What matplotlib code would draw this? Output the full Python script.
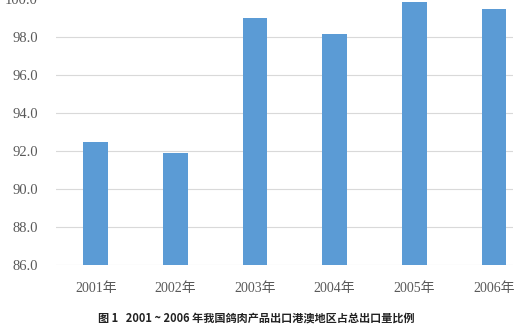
import matplotlib
matplotlib.use("Agg")
import matplotlib.pyplot as plt

years = ["2001年", "2002年", "2003年", "2004年", "2005年", "2006年"]
values = [92.47, 91.9, 99.0, 98.15, 99.85, 99.47]
yticks = [86.0, 88.0, 90.0, 92.0, 94.0, 96.0, 98.0, 100.0]
caption = "图 1   2001 ~ 2006 年我国鸽肉产品出口港澳地区占总出口量比例"

fig = plt.figure(figsize=(5.26, 3.26), dpi=100)
ax = fig.add_axes([56/526, 1 - 265/326, (513-56)/526, 266/326])

x = list(range(len(years)))
ax.bar(x, values, width=0.31, color="#5B9BD5", zorder=3)
ax.set_ylim(86, 100)
ax.set_xlim(-0.5, 5.24)
ax.set_yticks(yticks)
ax.set_yticklabels([f"{v:.1f}" for v in yticks], family=["Liberation Serif", "Noto Sans CJK SC"],
                   fontsize=10.5, color="#595959")
ax.set_xticks(x)
ax.set_xticklabels(years, family=["Liberation Serif", "Noto Sans CJK SC"], fontsize=10, color="#595959")
ax.grid(axis="y", color="#D9D9D9", linewidth=0.8, zorder=0)
ax.tick_params(length=0, pad=12)
ax.tick_params(axis="y", pad=13)
for s in ax.spines.values():
    s.set_visible(False)

fig.text(0.487, (326-318)/326, caption, ha="center", va="center",
         family=["Noto Sans CJK SC", "DejaVu Sans"], fontsize=8, fontweight="bold", color="#222222")

fig.savefig("out.png", dpi=100)
